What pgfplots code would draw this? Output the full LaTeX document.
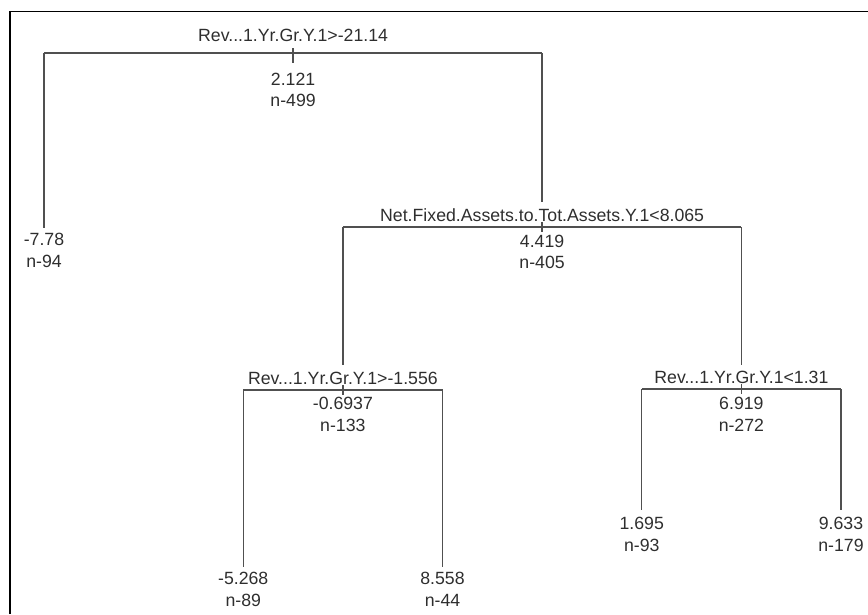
\documentclass[border=0pt]{standalone}
\usepackage{fontspec}
\setmainfont{Liberation Sans}
\usepackage{pgfplots}
\pgfplotsset{compat=1.18}
\definecolor{treecol}{HTML}{505050}
\definecolor{txtcol}{HTML}{2E2E2E}
\tikzset{tl/.style={font=\fontsize{17.7}{20}\selectfont, text=txtcol, inner sep=0pt,
    text height=12.7pt, text depth=0pt, anchor=center},
  tr/.style={draw=treecol, line width=1.3pt, solid, mark=none}}
\begin{document}
\begin{tikzpicture}
\begin{axis}[
  scale only axis, width=868pt, height=614pt,
  xmin=0.77917, xmax=5.13551, ymin=0, ymax=614, y dir=reverse,
  hide axis, clip=false,
]
% frame (top and left edges; the picture is cropped on the right and bottom)
\draw[black, line width=1.8pt] (axis cs:0.8294,614) -- (axis cs:0.8294,11.5) -- (axis cs:5.13551,11.5);

% root split
\addplot[tr] coordinates {(1,53) (3.5,53)};
\addplot[tr] coordinates {(2.25,48) (2.25,63)};
\addplot[tr] coordinates {(1,53) (1,228)};
\addplot[tr] coordinates {(3.5,53) (3.5,202)};
% second split
\addplot[tr] coordinates {(2.5,227) (4.5,227)};
\addplot[tr] coordinates {(3.5,222) (3.5,232)};
\addplot[tr] coordinates {(2.5,227) (2.5,365)};
\addplot[tr] coordinates {(4.5,227) (4.5,365)};
% left third split
\addplot[tr] coordinates {(2,390) (3,390)};
\addplot[tr] coordinates {(2.5,385) (2.5,395)};
\addplot[tr] coordinates {(2,390) (2,567)};
\addplot[tr] coordinates {(3,390) (3,567)};
% right third split
\addplot[tr] coordinates {(4,389) (5,389)};
\addplot[tr] coordinates {(4.5,384) (4.5,394)};
\addplot[tr] coordinates {(4,389) (4,510)};
\addplot[tr] coordinates {(5,389) (5,510)};

% labels
\node[tl] at (axis cs:2.25,35) {Rev...1.Yr.Gr.Y.1>-21.14};
\node[tl] at (axis cs:2.25,79) {2.121};
\node[tl] at (axis cs:2.25,100) {n-499};

\node[tl] at (axis cs:1,239) {-7.78};
\node[tl] at (axis cs:1,261) {n-94};

\node[tl] at (axis cs:3.5,215) {Net.Fixed.Assets.to.Tot.Assets.Y.1<8.065};
\node[tl] at (axis cs:3.5,241) {4.419};
\node[tl] at (axis cs:3.5,262) {n-405};

\node[tl] at (axis cs:2.5,378) {Rev...1.Yr.Gr.Y.1>-1.556};
\node[tl] at (axis cs:2.5,403) {-0.6937};
\node[tl] at (axis cs:2.5,425) {n-133};

\node[tl] at (axis cs:4.5,377) {Rev...1.Yr.Gr.Y.1<1.31};
\node[tl] at (axis cs:4.5,403) {6.919};
\node[tl] at (axis cs:4.5,425) {n-272};

\node[tl] at (axis cs:2,578) {-5.268};
\node[tl] at (axis cs:2,600) {n-89};
\node[tl] at (axis cs:3,578) {8.558};
\node[tl] at (axis cs:3,600) {n-44};

\node[tl] at (axis cs:4,523) {1.695};
\node[tl] at (axis cs:4,545) {n-93};
\node[tl] at (axis cs:5,523) {9.633};
\node[tl] at (axis cs:5,545) {n-179};
\end{axis}
\pgfresetboundingbox
\path[use as bounding box] (current axis.south west) rectangle (current axis.north east);
\end{tikzpicture}
\end{document}
